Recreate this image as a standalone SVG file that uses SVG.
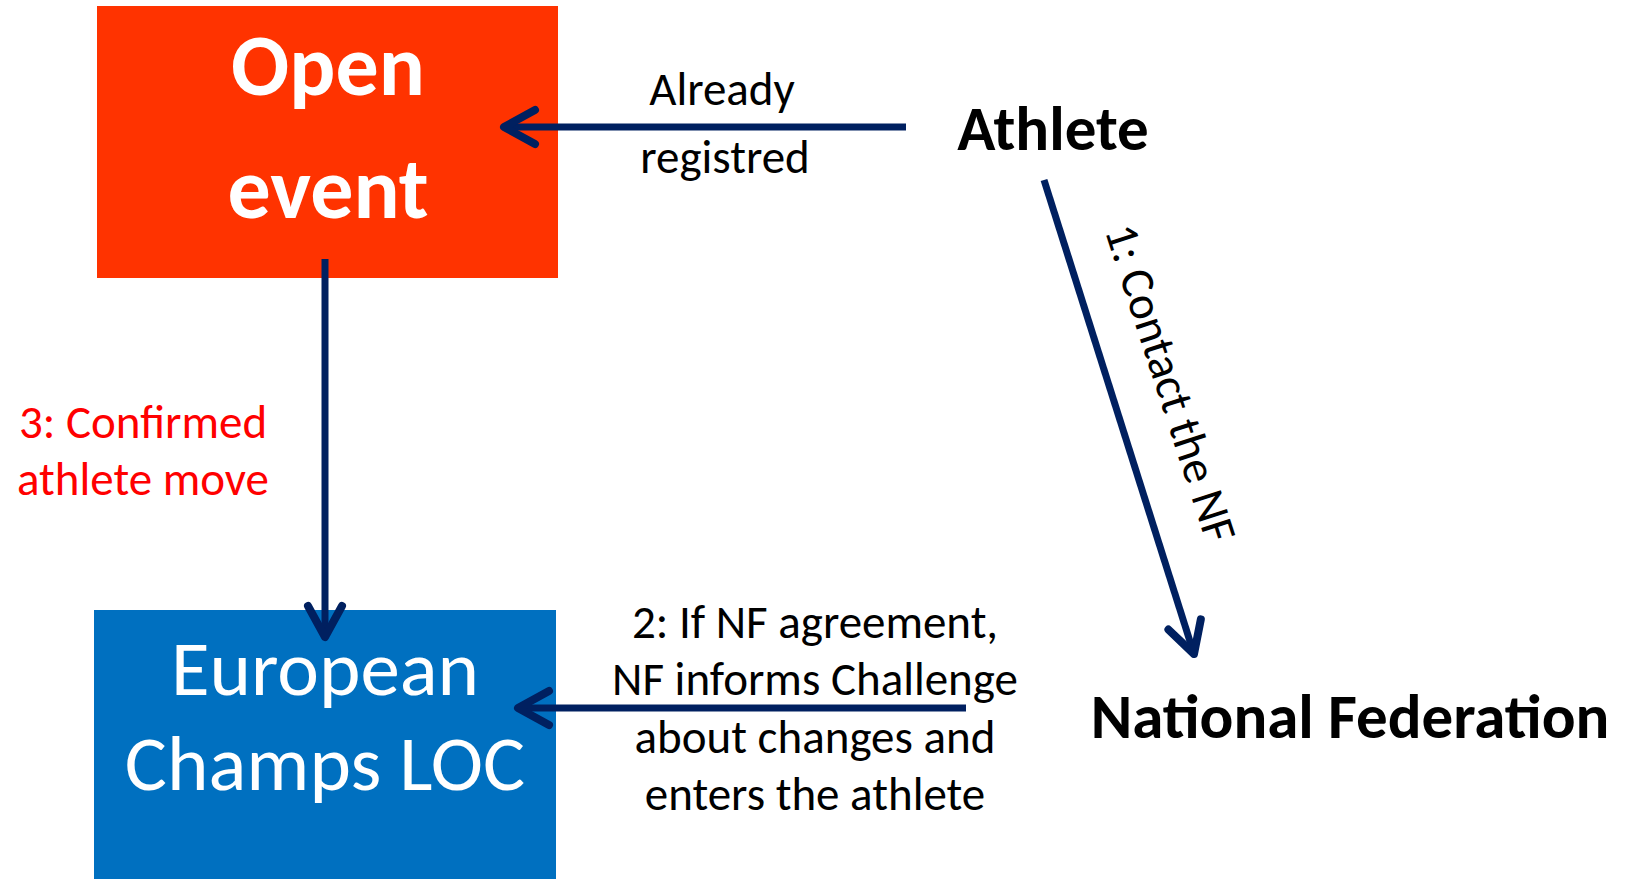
<svg xmlns="http://www.w3.org/2000/svg" width="1631" height="879" viewBox="0 0 1631 879">
<style>
text{font-family:Carlito,"Liberation Sans Narrow","Liberation Sans",sans-serif;}
.lbl{font-size:47px;fill:#000;}
.red{font-size:47px;fill:#FF0000;}
.big{font-size:63px;font-weight:bold;fill:#000;}
.wb{font-size:86px;font-weight:bold;fill:#fff;}
.wr{font-size:79px;fill:#fff;}
.con{stroke:#002060;stroke-width:7;fill:none;}
</style>
<defs>
<marker id="arr" markerUnits="userSpaceOnUse" viewBox="-45 -30 60 60" markerWidth="60" markerHeight="60" refX="0" refY="0" orient="auto" overflow="visible">
<path d="M-31,-17 L0,0 L-31,17" fill="none" stroke="#002060" stroke-width="8" stroke-linecap="round" stroke-linejoin="round"/>
</marker>
</defs>
<rect width="1631" height="879" fill="#fff"/>
<g id="open-event">
<rect x="97" y="6" width="461" height="272" fill="#FF3300"/>
<text class="wb" x="328" y="95" text-anchor="middle">Open</text>
<text class="wb" x="328" y="218" text-anchor="middle">event</text>
</g>
<g id="european-champs">
<rect x="94" y="610" width="462" height="269" fill="#0070C0"/>
<text class="wr" x="325" y="695" text-anchor="middle">European</text>
<text class="wr" x="325" y="790" text-anchor="middle">Champs LOC</text>
</g>
<g id="athlete">
<text class="big" x="1053" y="150" text-anchor="middle">Athlete</text>
</g>
<g id="national-federation">
<text class="big" x="1350" y="738" text-anchor="middle">National Federation</text>
</g>
<g id="labels">
<text class="lbl" x="722" y="105" text-anchor="middle">Already</text>
<text class="lbl" x="725" y="173" text-anchor="middle">registred</text>
<text class="red" x="143" y="438" text-anchor="middle">3: Confirmed</text>
<text class="red" x="143" y="495" text-anchor="middle">athlete move</text>
<text class="lbl" x="815" y="638" text-anchor="middle">2: If NF agreement,</text>
<text class="lbl" x="815" y="695" text-anchor="middle">NF informs Challenge</text>
<text class="lbl" x="815" y="753" text-anchor="middle">about changes and</text>
<text class="lbl" x="815" y="810" text-anchor="middle">enters the athlete</text>
<text class="lbl" transform="translate(1171,383) rotate(72)" x="0" y="16" text-anchor="middle">1: Contact the NF</text>
</g>
<g id="connectors">
<path class="con" d="M906,127 L504,127" marker-end="url(#arr)"/>
<path class="con" d="M325,259 L325,637" marker-end="url(#arr)"/>
<path class="con" d="M1044,180 L1194,654" marker-end="url(#arr)"/>
<path class="con" d="M966,708 L518,708" marker-end="url(#arr)"/>
</g>
</svg>
